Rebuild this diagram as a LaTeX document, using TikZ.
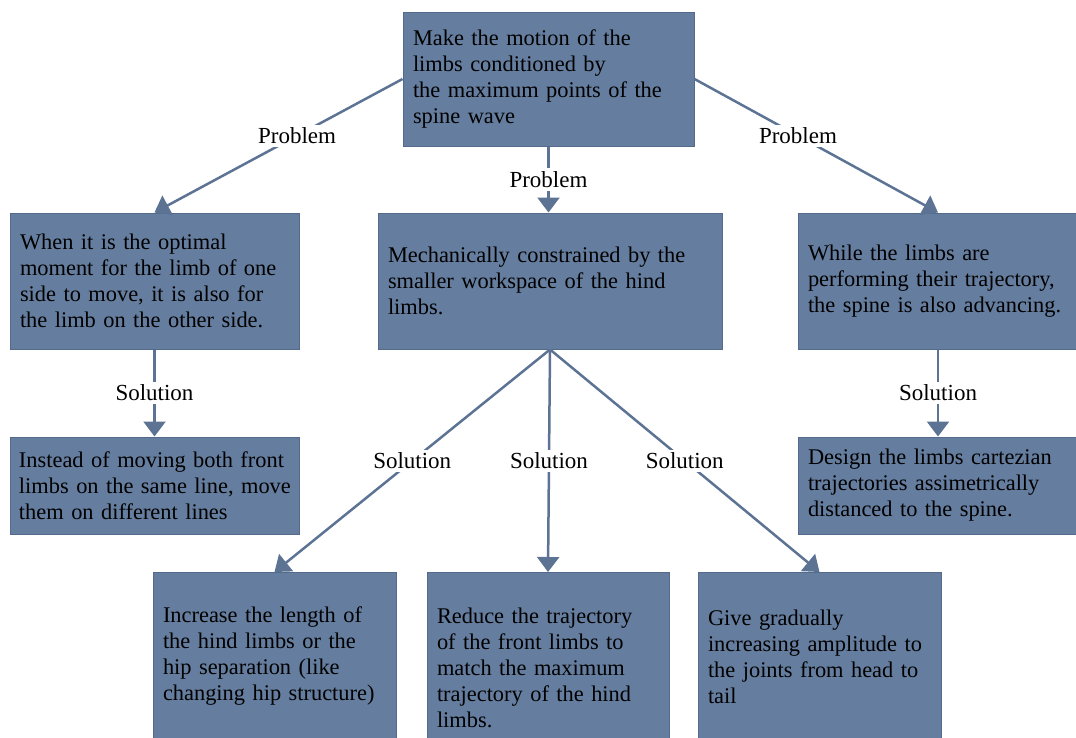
\documentclass[tikz,border=0pt]{standalone}
\usepackage{fontspec}
\setmainfont{Liberation Serif}
\usetikzlibrary{arrows.meta}
\definecolor{boxfill}{RGB}{101,125,158}
\definecolor{boxline}{RGB}{84,106,138}
\definecolor{linkcol}{RGB}{92,115,148}
\tikzset{
  box/.style={rectangle, fill=boxfill, draw=boxline, line width=1pt, inner xsep=10pt, align=left, font=\fontsize{22.4}{26}\selectfont},
  link/.style={draw=linkcol, line width=2.5pt, -{Triangle[width=22pt,length=15pt]}},
  tag/.style={fill=white, inner sep=3pt, font=\fontsize{23}{25}\selectfont}
}

\begin{document}
\begin{tikzpicture}[x=1pt,y=-1pt]
\clip (0,0) rectangle (1076,737);
% goal
\node[box, text width=271pt, minimum height=134pt] (top) at (548.5,79) {Make the motion of the\\ limbs conditioned by\\ the maximum points of the\\ spine wave};
% problems
\node[box, text width=269pt, minimum height=136pt] (p1) at (154.5,281) {When it is the optimal\\ moment for the limb of one\\ side to move, it is also for\\ the limb on the other side.};
\node[box, text width=324pt, minimum height=136pt] (p2) at (550,281) {Mechanically constrained by the\\ smaller workspace of the hind\\ limbs.};
\node[box, text width=260pt, minimum height=136pt] (p3) at (938,281) {While the limbs are\\ performing their trajectory,\\ the spine is also advancing.};
% solutions
\node[box, inner xsep=6pt, text width=277pt, minimum height=97pt] (s1) at (154.5,485.5) {\hspace*{3pt}Instead of moving both front\\ \hspace*{3pt}limbs on the same line, move\\ \hspace*{3pt}them on different lines};
\node[box, text width=260pt, minimum height=97pt] (s5) at (938,485.5) {Design the limbs cartezian\\ trajectories assimetrically\\ distanced to the spine.};
\node[box, anchor=north, text width=223pt, minimum height=168pt] (s2) at (274.5,572) {Increase the length of\\ the hind limbs or the\\ hip separation (like\\ changing hip structure)};
\node[box, anchor=north, text width=222pt, minimum height=190pt] (s3) at (548,572) {Reduce the trajectory\\ of the front limbs to\\ match the maximum\\ trajectory of the hind\\ limbs.};
\node[box, anchor=north, text width=223pt, minimum height=168pt] (s4) at (819.5,572) {Give gradually\\ increasing amplitude to\\ the joints from head to\\ tail};

\draw[link] (top.west) -- node[tag, pos=0.425] (q1) {Problem} (p1.north);
\draw[link] (top.south) -- node[tag] (q2) {Problem} (top.south |- p2.north);
\draw[link] (top.east) -- node[tag, pos=0.425] (q3) {Problem} (p3.north);
\draw[link] (p1.south) -- node[tag] (r1) {Solution} (s1.north);
\draw[link] (p3.south) -- node[tag] (r5) {Solution} (s5.north);
\draw[link] (p2.south) -- node[tag] (r2) {Solution} (s2.north);
\draw[link] (p2.south) -- node[tag] (r3) {Solution} (s3.north);
\draw[link] (p2.south) -- node[tag] (r4) {Solution} (s4.north);
\end{tikzpicture}
\end{document}
